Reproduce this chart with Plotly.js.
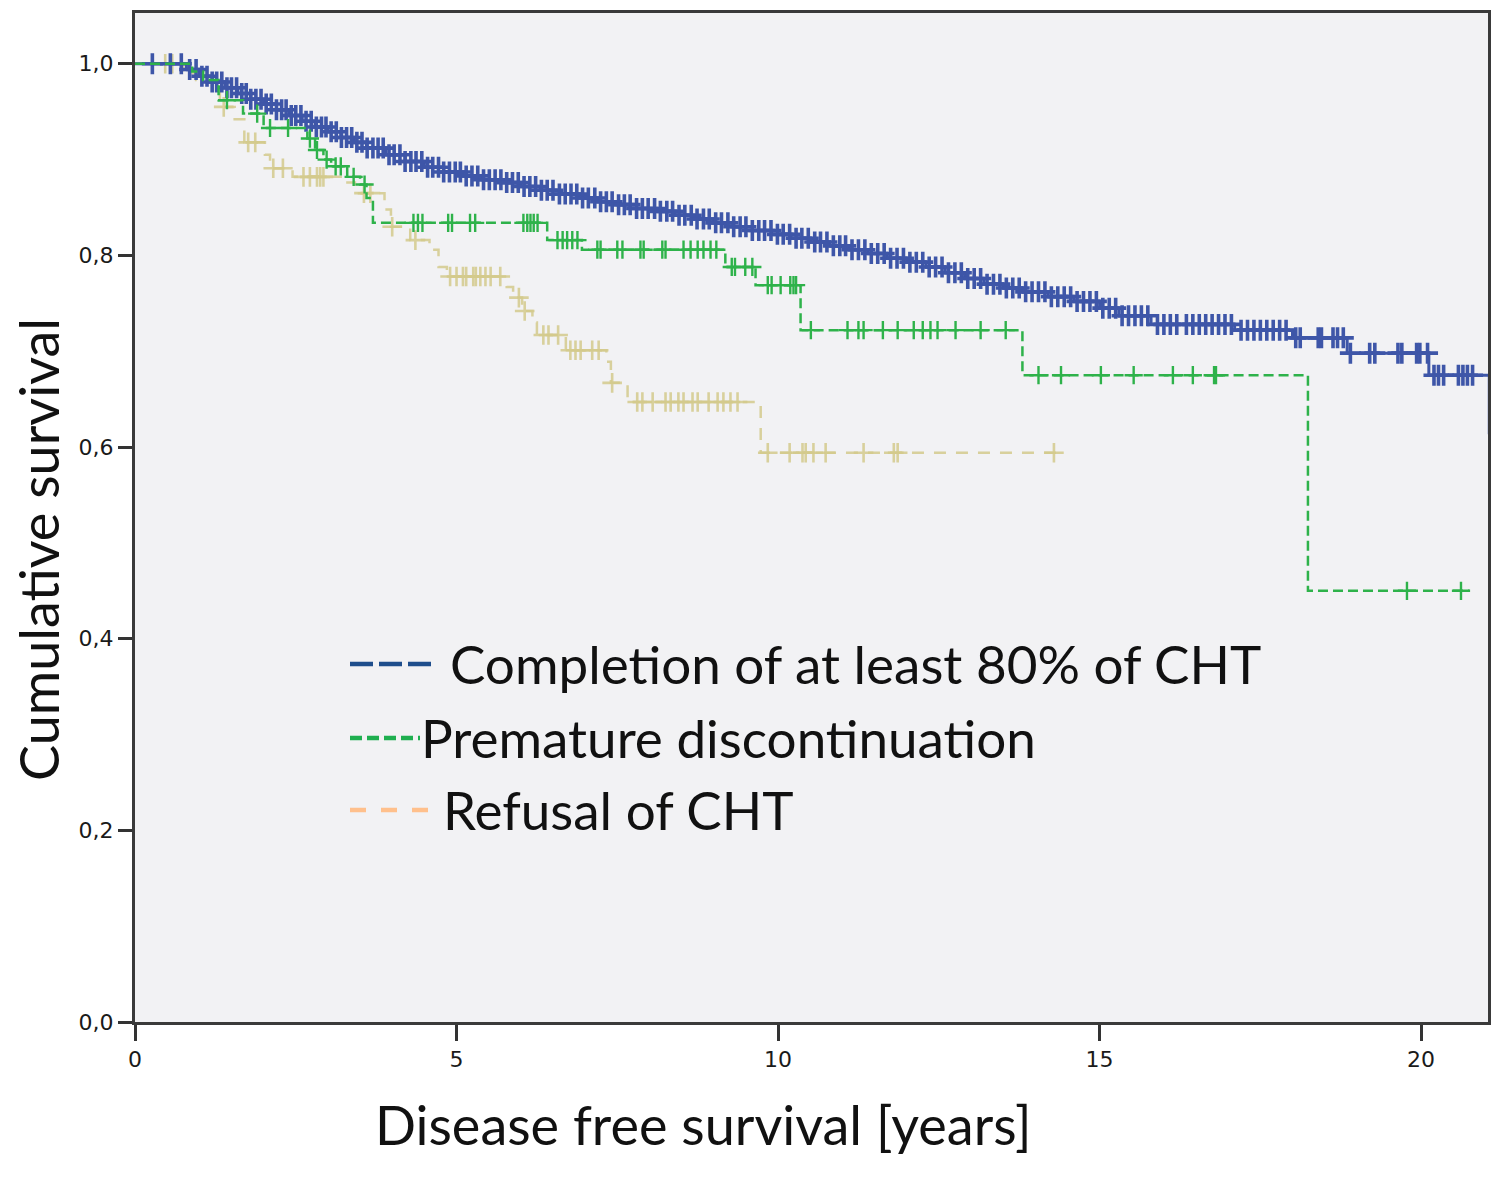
<!DOCTYPE html>
<html>
<head>
<meta charset="utf-8">
<script src="https://cdn.plot.ly/plotly-3.0.1.min.js"></script>
<style>
  html, body { margin: 0; padding: 0; background: #fff; }
  #chart { width: 1500px; height: 1179px; }
</style>
</head>
<body>
<div id="chart"></div>
<script>
// Kaplan-Meier curves: step times (years) and cumulative survival
const completionTimes = [0, 0.8, 1.0, 1.2, 1.4, 1.6, 1.8, 2.0, 2.2, 2.4, 2.6, 2.8, 3.0, 3.2, 3.4, 3.6, 3.9, 4.2, 4.5, 4.8,
  5.1, 5.4, 5.7, 6.0, 6.3, 6.6, 6.9, 7.2, 7.5, 7.8, 8.1, 8.4, 8.7, 9.0, 9.3, 9.6, 9.9, 10.2, 10.5, 10.8,
  11.1, 11.4, 11.7, 12.0, 12.3, 12.6, 12.9, 13.2, 13.5, 13.8, 14.2, 14.6, 15.0, 15.3, 15.8, 17.1, 18.0, 18.85, 20.12, 21.06, 21.3];
const completionSurv = [1.0, 0.994, 0.987, 0.981, 0.975, 0.969, 0.963, 0.958, 0.952, 0.946, 0.940, 0.934, 0.929, 0.923, 0.918, 0.912, 0.905, 0.898, 0.892, 0.887,
  0.883, 0.879, 0.876, 0.872, 0.868, 0.864, 0.860, 0.856, 0.853, 0.849, 0.846, 0.842, 0.838, 0.834, 0.830, 0.826, 0.822, 0.818, 0.814, 0.810,
  0.806, 0.802, 0.797, 0.793, 0.788, 0.782, 0.776, 0.770, 0.766, 0.762, 0.757, 0.752, 0.745, 0.737, 0.728, 0.722, 0.714, 0.698, 0.675, 0.615, 0.615];
const completionCensored = [0.27, 0.55, 0.72, 0.85, 0.95, 1.04, 1.12, 1.2, 1.27, 1.35, 1.43, 1.5, 1.58, 1.66, 1.73, 1.8, 1.88, 1.96,
  2.04, 2.12, 2.2, 2.28, 2.35, 2.43, 2.5, 2.58, 2.66, 2.74, 2.82, 2.9, 2.97, 3.05, 3.13, 3.21, 3.29, 3.37, 3.45, 3.53, 3.61, 3.7,
  3.78, 3.86, 3.95, 4.03, 4.12, 4.2, 4.29, 4.37, 4.46, 4.55, 4.63, 4.72, 4.8, 4.89, 4.98, 5.06, 5.15, 5.24, 5.33, 5.42, 5.51, 5.6,
  5.69, 5.78, 5.87, 5.96, 6.05, 6.14, 6.23, 6.32, 6.41, 6.5, 6.6, 6.69, 6.78, 6.87, 6.96, 7.05, 7.15, 7.24, 7.33, 7.42, 7.52, 7.61,
  7.7, 7.8, 7.89, 7.98, 8.08, 8.17, 8.27, 8.36, 8.46, 8.55, 8.65, 8.74, 8.84, 8.93, 9.03, 9.12, 9.22, 9.31, 9.41, 9.5, 9.6, 9.7,
  9.79, 9.89, 9.99, 10.08, 10.18, 10.28, 10.37, 10.47, 10.57, 10.66, 10.76, 10.86, 10.96, 11.05, 11.15, 11.25, 11.35, 11.45, 11.55,
  11.65, 11.75, 11.85, 11.95, 12.05, 12.15, 12.25, 12.35, 12.45, 12.55, 12.65, 12.75, 12.85, 12.95, 13.05, 13.15, 13.25, 13.35,
  13.45, 13.55, 13.65, 13.75, 13.85, 13.95, 14.05, 14.15, 14.25, 14.35, 14.45, 14.55, 14.65, 14.75, 14.85, 14.95, 15.05, 15.15,
  15.25, 15.35, 15.45, 15.55, 15.65, 15.75, 15.9, 16.0, 16.1, 16.2, 16.35, 16.45, 16.55, 16.65, 16.75, 16.85, 16.95, 17.05,
  17.2, 17.3, 17.4, 17.5, 17.6, 17.7, 17.8, 17.9, 18.05, 18.12, 18.4, 18.45, 18.63, 18.7, 18.79, 18.9, 19.2, 19.28, 19.64, 19.7,
  19.93, 19.98, 20.1, 20.2, 20.27, 20.35, 20.58, 20.65, 20.72, 20.8];

const prematureTimes = [0, 0.89, 1.06, 1.3, 1.68, 2.0, 2.68, 2.8, 2.93, 3.05, 3.3, 3.5, 3.6, 3.7, 6.41, 6.95, 9.18, 9.65, 10.35, 13.8, 18.24, 20.75];
const prematureSurv = [1.0, 0.992, 0.983, 0.962, 0.948, 0.933, 0.922, 0.910, 0.900, 0.893, 0.882, 0.874, 0.860, 0.834, 0.816, 0.806, 0.788, 0.769, 0.722, 0.675, 0.450, 0.450];
const prematureCensored = [1.43, 1.9, 2.1, 2.38, 2.72, 2.83, 2.98, 3.12, 3.2, 3.4, 3.57, 4.33, 4.4, 4.47, 4.87, 4.93, 5.21, 5.29,
  6.04, 6.1, 6.15, 6.2, 6.26, 6.57, 6.65, 6.72, 6.8, 6.88, 7.19, 7.24, 7.5, 7.58, 7.86, 7.91, 8.2, 8.25, 8.53, 8.64, 8.75, 8.84,
  8.95, 9.04, 9.28, 9.33, 9.49, 9.6, 9.84, 9.9, 10.04, 10.19, 10.24, 10.28, 10.51, 11.08, 11.25, 11.33, 11.63, 11.86, 12.11,
  12.25, 12.37, 12.48, 12.76, 13.15, 13.54, 14.05, 14.4, 15.02, 15.53, 16.14, 16.45, 16.78, 16.81, 19.78, 20.62];

const refusalTimes = [0, 0.75, 0.95, 1.2, 1.32, 1.55, 1.7, 2.02, 2.1, 2.45, 3.22, 3.42, 3.88, 3.98, 4.28, 4.58, 4.72, 4.85,
  5.78, 5.88, 6.02, 6.18, 6.25, 6.7, 7.33, 7.4, 7.66, 9.73, 14.43];
const refusalSurv = [1.0, 0.99, 0.983, 0.975, 0.955, 0.942, 0.918, 0.905, 0.891, 0.882, 0.876, 0.865, 0.848, 0.830, 0.816, 0.806, 0.788, 0.778,
  0.767, 0.756, 0.742, 0.730, 0.717, 0.701, 0.689, 0.667, 0.647, 0.594, 0.594];
const refusalCensored = [0.47, 0.58, 1.38, 1.76, 1.87, 2.15, 2.3, 2.62, 2.72, 2.83, 2.88, 2.93, 3.56, 3.66, 4.0, 4.36, 4.9, 5.0,
  5.1, 5.15, 5.26, 5.3, 5.37, 5.45, 5.53, 5.68, 5.97, 6.06, 6.35, 6.43, 6.58, 6.77, 6.85, 6.93, 7.11, 7.21, 7.42, 7.81, 7.89,
  8.05, 8.25, 8.33, 8.45, 8.53, 8.67, 8.75, 8.92, 9.06, 9.15, 9.26, 9.37, 9.84, 10.18, 10.38, 10.43, 10.55, 10.74, 11.33,
  11.8, 11.86, 14.29];

const yTickVals = [0, 0.2, 0.4, 0.6, 0.8, 1.0];
const yTickText = ['0,0', '0,2', '0,4', '0,6', '0,8', '1,0'];
const xTickVals = [0, 5, 10, 15, 20];

const legendLabels = ['Completion of at least 80% of CHT', 'Premature discontinuation', 'Refusal of CHT'];

// survival value of a step curve at time t (for placing censor marks on the curve)
function survAt(times, surv, t) {
  let v = surv[0];
  for (let i = 0; i < times.length; i++) {
    if (times[i] <= t) v = surv[i]; else break;
  }
  return v;
}

function kmTraces(times, surv, censored, color, dash, width, markSize, markWidth) {
  const line = {
    type: 'scatter', mode: 'lines', x: times, y: surv,
    line: { shape: 'hv', color: color, width: width, dash: dash },
    hoverinfo: 'skip', showlegend: false
  };
  const marks = {
    type: 'scatter', mode: 'markers', x: censored, y: censored.map(t => survAt(times, surv, t)),
    marker: { symbol: 'cross-thin', size: markSize, color: color, line: { color: color, width: markWidth } },
    hoverinfo: 'skip', showlegend: false
  };
  return [line, marks];
}

const tan = 'rgba(212,202,140,0.85)';
const green = '#2EB24A';
const blue = '#3E56A8';

const data = [
  ...kmTraces(refusalTimes, refusalSurv, refusalCensored, tan, '12px,10px', 2.5, 14, 2.6),
  ...kmTraces(completionTimes, completionSurv, completionCensored, blue, 'solid', 3, 15, 3.6),
  ...kmTraces(prematureTimes, prematureSurv, prematureCensored, green, '10px,5px', 2.5, 13, 2.4),
];

const PX = { l: 135, r: 12, t: 13, b: 157 };
const plotW = 1500 - PX.l - PX.r, plotH = 1179 - PX.t - PX.b;
const px2x = px => (px - PX.l) / plotW;
const py2y = py => (1179 - PX.b - py) / plotH;

const legendRows = [
  { y: 664, x0: 350, x1: 432, tx: 448, color: '#1F4E8C', dash: '23px,6px' },
  { y: 738, x0: 350, x1: 420, tx: 419, color: '#1FAF4F', dash: '12px,5px' },
  { y: 810, x0: 350, x1: 428, tx: 441, color: '#FFC08C', dash: '16px,15px' },
];

const shapes = legendRows.map(r => ({
  type: 'line', xref: 'paper', yref: 'paper',
  x0: px2x(r.x0), x1: px2x(r.x1), y0: py2y(r.y), y1: py2y(r.y),
  line: { color: r.color, width: 4.5, dash: r.dash }
}));

const bigFont = { family: 'Lato, "Open Sans", sans-serif', size: 53, color: '#111' };

const annotations = legendRows.map((r, i) => ({
  xref: 'paper', yref: 'paper', x: px2x(r.tx), y: py2y(r.y - 1),
  xanchor: 'left', yanchor: 'middle', showarrow: false,
  text: legendLabels[i], font: bigFont
})).concat([
  { xref: 'paper', yref: 'paper', x: px2x(703), y: py2y(1124), xanchor: 'center', yanchor: 'middle',
    showarrow: false, text: 'Disease free survival [years]', font: { ...bigFont, size: 54 } },
  { xref: 'paper', yref: 'paper', x: px2x(38), y: py2y(550), xanchor: 'center', yanchor: 'middle',
    showarrow: false, textangle: -90, text: 'Cumulative survival', font: { ...bigFont, size: 54 } }
]);

const tickFont = { family: '"DejaVu Sans", sans-serif', size: 22, color: '#1a1a1a' };

const layout = {
  width: 1500, height: 1179,
  margin: PX,
  paper_bgcolor: '#ffffff',
  plot_bgcolor: '#F2F2F4',
  showlegend: false,
  xaxis: {
    range: [0, 21.04], tickvals: xTickVals, ticktext: xTickVals.map(String),
    ticks: 'outside', ticklen: 16, tickwidth: 3, tickcolor: '#333',
    showgrid: false, zeroline: false,
    showline: true, linecolor: '#3a3a3a', linewidth: 3, mirror: true,
    tickfont: tickFont
  },
  yaxis: {
    range: [0, 1.053], tickvals: yTickVals, ticktext: yTickText,
    ticks: 'outside', ticklen: 14, tickwidth: 3, tickcolor: '#333',
    showgrid: false, zeroline: false,
    showline: true, linecolor: '#3a3a3a', linewidth: 3, mirror: true,
    tickfont: tickFont
  },
  shapes: shapes,
  annotations: annotations
};

Plotly.newPlot('chart', data, layout, { staticPlot: true, displayModeBar: false });
</script>
</body>
</html>
